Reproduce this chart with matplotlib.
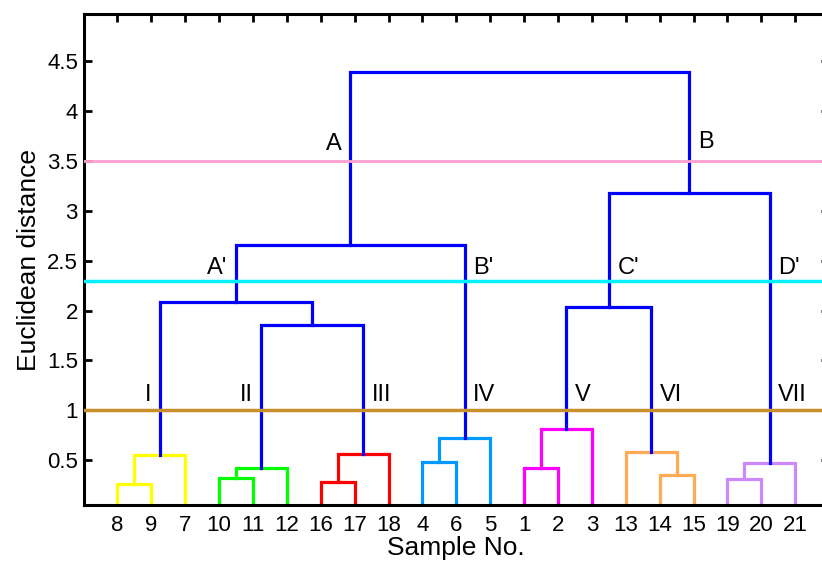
import matplotlib
matplotlib.use('Agg')
import matplotlib.pyplot as plt

plt.rcParams['font.family'] = ['Liberation Sans', 'DejaVu Sans']

# leaf order along the x axis (sample numbers)
leaf_labels = [8, 9, 7, 10, 11, 12, 16, 17, 18, 4, 6, 5, 1, 2, 3, 13, 14, 15, 19, 20, 21]

# merges: (left id, right id, height, colour); leaves are 0..20, new clusters get 21, 22, ...
merge_left = [0, 21, 3, 23, 6, 25, 9, 27, 12, 29, 16, 15, 18, 33, 24, 22, 36, 30, 38, 37]
merge_right = [1, 2, 4, 5, 7, 8, 10, 11, 13, 14, 17, 31, 19, 20, 26, 35, 28, 32, 34, 39]
merge_height = [0.26, 0.55, 0.32, 0.42, 0.28, 0.56, 0.48, 0.72, 0.42, 0.81,
                0.35, 0.58, 0.31, 0.47, 1.85, 2.085, 2.66, 2.035, 3.18, 4.39]
merge_color = ['#ffff00', '#ffff00', '#00ff00', '#00ff00', '#ff0000', '#ff0000',
               '#0099ff', '#0099ff', '#ff00ff', '#ff00ff', '#ffaa55', '#ffaa55',
               '#cc88ff', '#cc88ff'] + ['#0000ff'] * 6

# cut-off levels
cut_levels = [3.5, 2.3, 1.0]
cut_colors = ['#ff9fcf', '#00f0ff', '#c8902a']
cut_widths = [2.0, 2.5, 2.5]

# group labels: text, cluster id, height, side of the vertical line
group_text = ['A', 'B', "A'", "B'", "C'", "D'", 'I', 'II', 'III', 'IV', 'V', 'VI', 'VII']
group_node = [37, 39, 36, 28, 38, 34, 22, 24, 26, 28, 30, 32, 34]
group_y = [3.67, 3.69, 2.43, 2.43, 2.43, 2.43, 1.15, 1.15, 1.15, 1.15, 1.15, 1.15, 1.15]
group_side = ['left', 'right', 'left', 'right', 'right', 'right',
              'left', 'left', 'right', 'right', 'right', 'right', 'right']


def build_positions(n_leaves):
    xs = {i: i + 1.0 for i in range(n_leaves)}
    ys = {i: 0.0 for i in range(n_leaves)}
    for k, (a, b, h) in enumerate(zip(merge_left, merge_right, merge_height)):
        xs[n_leaves + k] = (xs[a] + xs[b]) / 2
        ys[n_leaves + k] = h
    return xs, ys


def main():
    n = len(leaf_labels)
    xs, ys = build_positions(n)

    fig = plt.figure(figsize=(8.22, 5.64), dpi=100)
    ax = fig.add_axes([0.1016, 0.1046, 0.907, 0.870])

    # draw the dendrogram links
    for a, b, h, c in zip(merge_left, merge_right, merge_height, merge_color):
        ax.plot([xs[a], xs[a], xs[b], xs[b]], [ys[a], h, h, ys[b]],
                color=c, lw=2.3, solid_joinstyle='miter', zorder=2)

    for lvl, c, w in zip(cut_levels, cut_colors, cut_widths):
        ax.axhline(lvl, color=c, lw=w, zorder=3)

    off = 0.25
    for t, node, y, side in zip(group_text, group_node, group_y, group_side):
        if side == 'left':
            ax.text(xs[node] - off, y, t, ha='right', va='center', fontsize=17)
        else:
            ax.text(xs[node] + off, y, t, ha='left', va='center', fontsize=17)

    ax.set_xlim(0, n + 1)
    ax.set_ylim(0.05, 4.97)
    ax.set_xticks(range(1, n + 1))
    ax.set_xticklabels([str(s) for s in leaf_labels])
    ax.set_yticks([0.5, 1, 1.5, 2, 2.5, 3, 3.5, 4, 4.5])
    ax.set_yticklabels(['0.5', '1', '1.5', '2', '2.5', '3', '3.5', '4', '4.5'])

    ax.tick_params(axis='x', which='both', bottom=True, top=True, direction='in',
                   length=6, width=2, labelsize=16, pad=7)
    ax.tick_params(axis='x', bottom=False)
    ax.tick_params(axis='y', left=True, right=True, direction='in',
                   length=6, width=2, labelsize=16, pad=4)
    for sp in ax.spines.values():
        sp.set_linewidth(2.2)

    ax.set_xlabel('Sample No.', fontsize=19, labelpad=0)
    ax.set_ylabel('Euclidean distance', fontsize=19, labelpad=4)

    fig.savefig('out.png', dpi=100)


if __name__ == '__main__':
    main()
